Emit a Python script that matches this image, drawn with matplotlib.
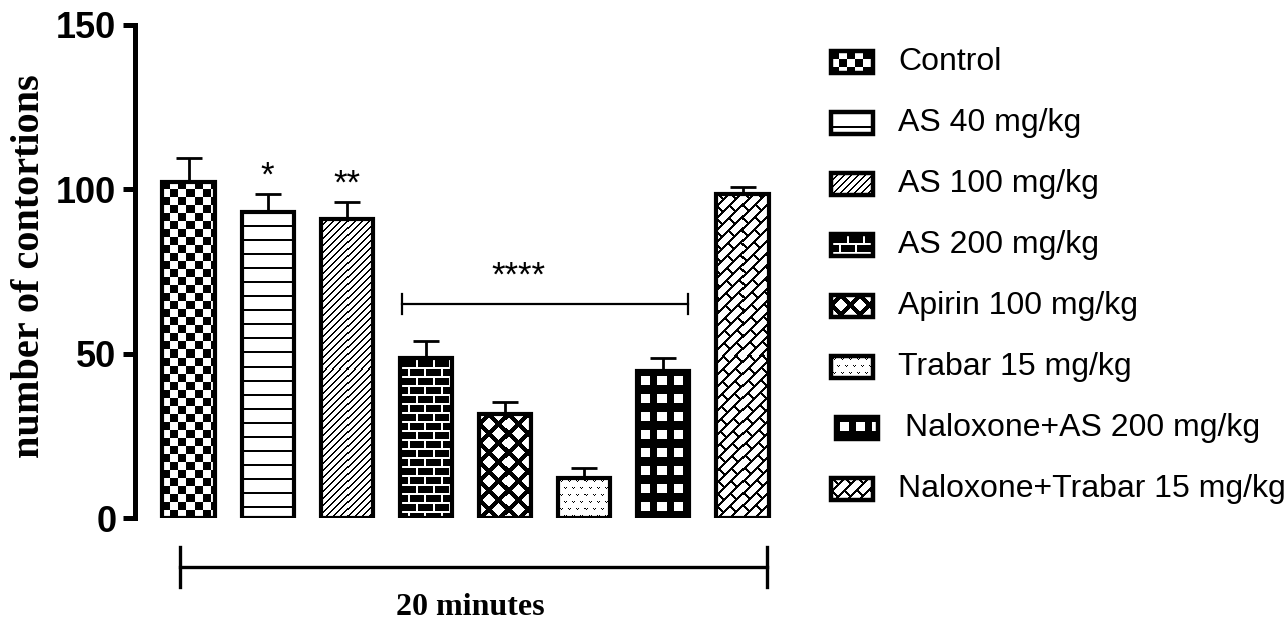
import numpy as np
import matplotlib
matplotlib.use("Agg")
import matplotlib.pyplot as plt
from matplotlib.patches import Rectangle

# Data
groups = ["Control", "AS 40 mg/kg", "AS 100 mg/kg", "AS 200 mg/kg",
          "Apirin 100 mg/kg", "Trabar 15 mg/kg", "Naloxone+AS 200 mg/kg",
          "Naloxone+Trabar 15 mg/kg"]
means = [102.3, 93.2, 91.0, 48.6, 31.6, 12.1, 44.7, 98.6]
sem = [7.2, 5.4, 5.1, 5.3, 3.6, 3.2, 4.1, 2.2]
stars = ["", "*", "**", "", "", "", "", ""]
yticks = [0, 50, 100, 150]

SANS = "Liberation Sans"
SERIF = "Liberation Serif"


# Fill textures (True = white pixel), i = row, j = column in pixels
def checker(i, j):
    return ((i // 8) + (j // 8)) % 2 == 1


def hlines(i, j):
    return (i % 14) >= 2


def diag(i, j):
    return (i + j) % 7 >= 2


def brick(i, j):
    row = i // 9
    off = (row % 2) * 8
    return ((i % 9) < 2) | (((j + off) % 16) < 2)


def lattice(i, j):
    P, R = 19, 6.5
    di = np.minimum(i % P, P - i % P)
    dj = np.minimum(j % P, P - j % P)
    ci = np.abs(i % P - P / 2)
    cj = np.abs(j % P - P / 2)
    return ((di + dj) < R) | ((ci + cj) < R)


def dots(i, j):
    row = i // 7
    jj = (j + (row % 2) * 4) % 8
    ii = i % 7
    black = ((ii == 2) & ((jj == 2) | (jj == 4))) | ((ii == 3) & (jj == 3))
    return ~black


def windows(i, j):
    return (((j - 4) % 16) < 9) & (((i - 5) % 18) < 9)


def herring(i, j):
    s = j - i
    t = j + i
    row = t // 12
    off = (row % 2) * 13
    return ~(((t % 12) < 3) | (((s + off) % 26) < 3))


patterns = [checker, hlines, diag, brick, lattice, dots, windows, herring]


def texture(func, h, w):
    h = max(int(round(h)), 1)
    w = max(int(round(w)), 1)
    ii, jj = np.mgrid[0:h, 0:w]
    return func(ii, jj).astype(float)


fig = plt.figure(figsize=(12.88, 6.27), dpi=100)
ax = fig.add_axes([135 / 1288, 109 / 627, 655 / 1288, 493 / 627])

x = np.arange(len(groups))
width = 0.66
ax.set_xlim(-0.676, 7.6)
ax.set_ylim(0, 150)

bars = ax.bar(x, means, width, fill=False, edgecolor="black", linewidth=3, zorder=3)
ax.errorbar(x, means, yerr=[np.zeros(len(sem)), sem], fmt="none", ecolor="black",
            elinewidth=2, capsize=9.5, capthick=2, zorder=2)

for b, func in zip(bars, patterns):
    x0, y0 = b.get_x(), b.get_y()
    x1, y1 = x0 + b.get_width(), y0 + b.get_height()
    p0 = ax.transData.transform((x0, y0))
    p1 = ax.transData.transform((x1, y1))
    img = texture(func, p1[1] - p0[1], p1[0] - p0[0])
    im = ax.imshow(img, cmap="gray", vmin=0, vmax=1, extent=(x0, x1, y0, y1),
                   origin="upper", interpolation="nearest", aspect="auto", zorder=1)
    im.set_clip_path(b)

ax.set_xlim(-0.676, 7.6)
ax.set_ylim(0, 150)

for xi, m, e, s in zip(x, means, sem, stars):
    if s:
        ax.text(xi, m + e + 5.5, s, ha="center", va="center", fontsize=25, family=SANS)

# significance bracket over AS 200 .. Naloxone+AS 200
bx0, bx1, by = x[3] - 0.3, x[6] + 0.31, 65.1
ax.plot([bx0, bx1], [by, by], color="black", lw=1.6, zorder=4)
ax.plot([bx0, bx0], [by - 3, by + 3], color="black", lw=1.6)
ax.plot([bx1, bx1], [by - 3, by + 3], color="black", lw=1.6)
ax.text(4.17, 73.5, "****", ha="center", va="center", fontsize=25, family=SANS)

# time bracket under the bars
tx0, tx1, ty = x[0] - 0.11, x[7] + 0.31, -14.9
ax.plot([tx0, tx1], [ty, ty], color="black", lw=2.4, clip_on=False)
ax.plot([tx0, tx0], [ty - 6, ty + 6], color="black", lw=2.4, clip_on=False)
ax.plot([tx1, tx1], [ty - 6, ty + 6], color="black", lw=2.4, clip_on=False)
ax.text(3.56, -27.1, "20 minutes", ha="center", va="center", fontsize=23,
        family=SERIF, fontweight="bold", clip_on=False)

for side in ["top", "right", "bottom"]:
    ax.spines[side].set_visible(False)
ax.spines["left"].set_linewidth(3.6)
ax.set_xticks([])
ax.set_yticks(yticks)
ax.tick_params(axis="y", length=8.5, width=3.6, pad=5)
for lab in ax.get_yticklabels():
    lab.set_fontfamily(SANS)
    lab.set_fontweight("bold")
    lab.set_fontsize(26)

fig.text(30 / 1288, 1 - 266 / 627, "number of contortions", rotation=90,
         ha="center", va="center", fontsize=29, family=SERIF, fontweight="bold")

# legend drawn in a pixel-unit overlay
lax = fig.add_axes([0, 0, 1, 1])
lax.set_xlim(0, 1288)
lax.set_ylim(627, 0)
lax.axis("off")
for k, (label, func) in enumerate(zip(groups, patterns)):
    yc = 62 + 61 * k
    px0, pw, ph = 831, 42, 22
    tx = 898
    if k == 6:
        px0, tx = 836, 905
    rect = Rectangle((px0, yc - ph / 2), pw, ph, fill=False, edgecolor="black",
                     linewidth=3.2, zorder=3)
    lax.add_patch(rect)
    img = texture(func, ph, pw)
    im = lax.imshow(img, cmap="gray", vmin=0, vmax=1,
                    extent=(px0, px0 + pw, yc + ph / 2, yc - ph / 2),
                    origin="upper", interpolation="nearest", aspect="auto", zorder=1)
    im.set_clip_path(rect)
    lax.text(tx, yc, label, ha="left", va="center", fontsize=23, family=SANS)
lax.set_xlim(0, 1288)
lax.set_ylim(627, 0)

fig.savefig("out.png", dpi=100)
